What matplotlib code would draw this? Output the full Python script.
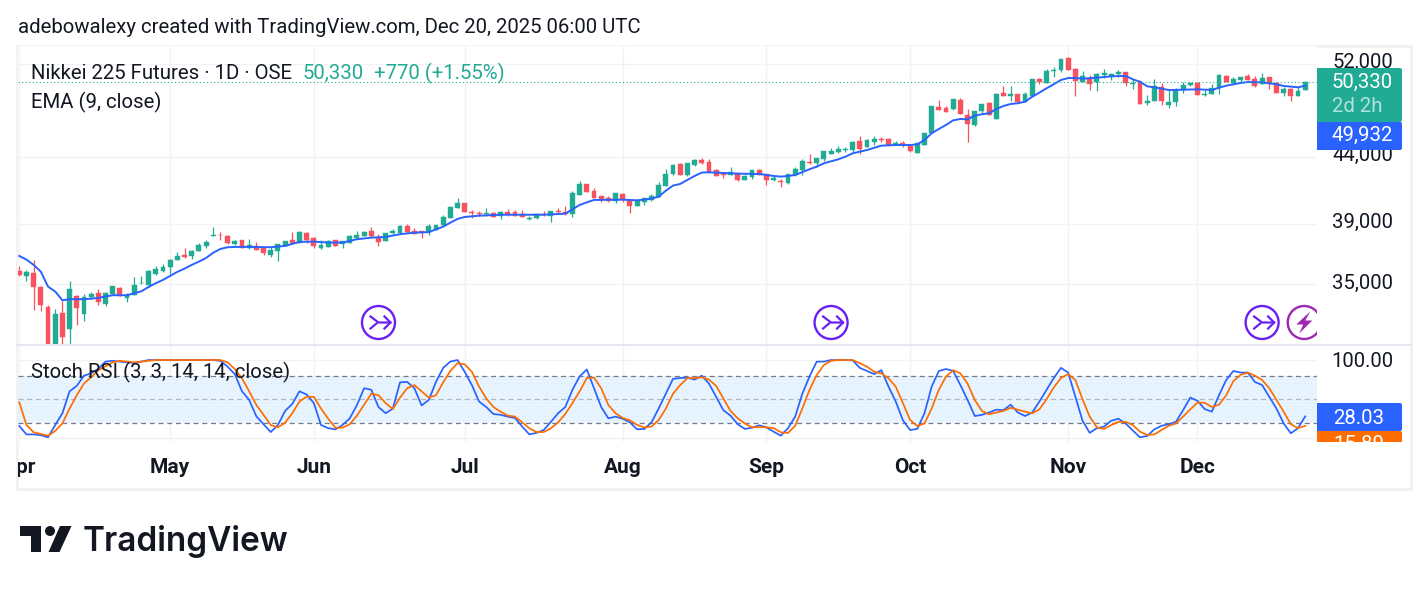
import matplotlib
matplotlib.use('Agg')
from matplotlib import pyplot as plt
from matplotlib.patches import Circle, Polygon, FancyBboxPatch, Rectangle
from matplotlib.transforms import Bbox, ScaledTranslation
import numpy as np

plt.rcParams['font.family'] = ['Roboto', 'DejaVu Sans']
plt.rcParams['hatch.linewidth'] = 0.3

# daily candles, first bar = 1 Apr
opens = [35880,35540,35740,34850,33615,30800,33255,32330,34290,33210,
         34205,34470,33815,34390,34785,34160,34365,35060,34955,35670,
         35860,36140,36575,36900,36820,37170,37510,38200,38275,38185,
         37645,37890,37390,37510,37390,36930,37170,37510,37910,37710,
         38390,38050,37375,37440,37890,37660,37730,38050,38185,38530,
         38120,37845,38390,38390,38880,38505,38505,38460,38605,38950,
         39440,40155,40510,39870,39800,39730,39775,39580,39870,39870,
         39730,39390,39440,39730,39580,39920,39870,39730,41100,41920,
         41400,41025,40880,40660,41175,40735,40300,40590,40735,40955,
         41775,42680,43455,42605,43380,43770,43610,42990,42680,42605,
         42755,42225,42450,42990,42675,42225,42150,42000,42605,42990,
         43610,43535,43845,44240,44400,44560,44560,45285,44800,45205,
         45450,45450,44960,45120,44880,44320,44960,45945,48135,48050,
         47965,48746,47450,46610,47790,48485,47110,49360,49095,49270,
         48570,49095,50615,50260,51350,51440,52565,51535,50345,50710,
         50345,50990,50900,51075,51260,50200,50345,48485,48660,49900,
         48310,48570,49630,50070,50260,49180,49270,49810,50900,50260,
         50530,50900,50620,50170,50805,50260,49360,49720,49095,49630]
highs = [36190,35925,36576,34910,33730,33495,33980,35225,34350,34410,
         34535,34700,34535,34910,34865,34450,35455,35545,35925,36160,
         36315,36640,37085,37350,37240,37690,37910,38810,38485,38250,
         37910,37930,37960,37780,37460,37420,37645,37845,38460,38530,
         38460,38120,37890,37910,37910,37845,38250,38530,38530,38810,
         38320,38390,38670,38950,39020,38740,38550,39020,38950,39650,
         40300,40880,40515,40010,39940,40155,39870,39940,40080,40010,
         40010,39580,39730,39940,39940,40155,40300,41400,42150,41925,
         41625,41030,41030,41250,41250,40810,40735,40880,41175,42075,
         43065,43455,43535,43535,43845,43925,43845,43065,42835,43225,
         42760,42605,42990,43065,42680,42530,42300,42680,43225,43845,
         44240,43925,44480,44720,44885,44800,45285,45695,45450,45695,
         45615,45530,45285,45285,44960,45125,45950,48225,48746,48225,
         48835,48920,47965,47790,48400,48570,49360,49990,49990,49275,
         49450,50620,50710,51535,51720,52470,52660,51630,51350,50990,
         51165,51535,51165,51440,51265,50620,50530,49180,50620,50260,
         49720,49810,50345,50345,50345,49630,50170,51075,50990,50805,
         50810,51075,50900,51165,50810,50345,49900,49810,49900,50440]
lows = [35560,35240,33435,33400,30000,30400,30900,30900,32565,32800,
        34080,33755,33695,34385,34290,33940,34365,35055,34865,35585,
        35815,35670,36570,36685,36660,37165,37375,38195,37910,37645,
        37600,37370,37305,37235,36905,36775,36510,37505,37705,37690,
        37730,37375,37305,37435,37505,37375,37690,38000,38180,38120,
        37510,37840,38320,38345,38390,38315,38050,38250,38600,38945,
        39435,40150,39865,39440,39580,39580,39510,39370,39580,39575,
        39505,39300,39370,39580,39160,39730,39650,39510,41095,41320,
        40875,40590,40590,40515,40590,39800,40295,40370,40660,40950,
        41770,42605,42600,42530,43300,43455,42760,42525,42375,42600,
        42150,42220,42300,42600,41850,42150,41700,41925,42530,42605,
        43455,43225,43690,44235,44320,44400,44400,44240,44795,44960,
        45205,44955,44955,44800,44400,44315,44955,45940,47875,47705,
        47880,47535,45205,46525,47620,47445,47105,49090,48660,48485,
        48565,49090,50170,50255,50805,51260,51435,49090,50340,49630,
        49540,50710,50530,50805,49990,49720,48395,48310,48655,48310,
        48050,48225,49360,49990,49175,49095,49265,49270,50340,50170,
        50260,50525,49900,50165,49720,49355,49095,48660,49090,49625]
closes = [35600,35800,34865,33755,30600,33190,31870,34720,33575,34225,
          34390,33940,34450,34890,34300,34350,34975,35100,35860,35970,
          36120,36555,36840,36790,37175,37575,37775,38250,38235,37710,
          37845,37390,37555,37240,37040,37240,37625,37840,37710,38460,
          37910,37510,37575,37845,37510,37840,38185,38250,38460,38185,
          37780,38385,38530,38880,38460,38320,38370,38880,38945,39510,
          40225,40510,39870,39820,39750,39775,39530,39870,39730,39580,
          39510,39440,39725,39650,39935,39870,39730,41250,41925,41325,
          40880,40735,40660,41245,40735,40300,40660,40875,41025,41850,
          42680,43380,42605,43530,43770,43535,42835,42530,42605,42835,
          42225,42530,42985,42605,42225,42375,42075,42675,43065,43690,
          43535,43920,44475,44480,44640,44640,45205,44640,45370,45450,
          45370,44960,45120,44960,44480,45120,45945,48220,47880,47710,
          48830,47540,46690,47785,48395,47450,49270,49095,49270,48570,
          49270,50615,50345,51350,51440,52465,51440,50440,50900,50170,
          51075,51165,51075,51260,50260,50260,48400,48660,49990,48660,
          48570,49630,50070,50260,49180,49270,49810,50990,50345,50620,
          50805,50530,49990,50710,50170,49360,49720,49095,49540,50330]

# EMA vertices
ema_idx = [0,1,2,3,4,5,6,7,8,9,10,11,12,13,14,15,16,17,18,19,20,21,22,23,24,25,26,27,28,29,30,31,32,35,37,39,41,43,45,47,
           49,51,53,55,57,59,60,61,62,64,67,70,73,76,77,78,79,80,84,86,88,89,90,91,92,93,94,95,96,98,100,103,105,106,107,108,
           110,111,112,114,115,116,118,120,122,124,125,126,127,128,129,130,131,132,133,134,135,136,137,138,139,140,141,142,143,
           144,145,146,147,148,150,152,154,155,156,157,158,160,162,164,166,167,168,170,171,173,175,176,178,179]
ema_val = [36840,36595,36250,35815,34865,34555,34020,34085,34085,34085,34120,34165,34245,34330,34330,34330,34450,34575,34845,35080,
           35286,35540,35800,36010,36250,36465,36705,37055,37305,37420,37440,37440,37440,37420,37510,37780,37800,37735,37735,37960,
           38070,38120,38305,38415,38445,38830,39110,39370,39510,39600,39670,39670,39670,39745,40060,40370,40565,40735,40757,40710,
           40830,40980,41420,41800,41925,42225,42530,42785,42815,42760,42705,42680,42530,42480,42530,42605,
           43045,43250,43510,43820,44030,44295,44560,44910,44960,44960,45015,45368,45920,46275,46610,47000,47110,47085,47395,47515,
           47600,47965,48225,48400,48460,48600,49035,49395,49785,
           50145,50530,50710,50710,50650,50735,50865,50900,50590,50375,49960,49870,49630,49655,49690,49630,49835,50015,50260,50345,
           50320,50145,49990,49870,50015]

stoch_k = [15.7,5,5,4,1.3,17,32,60,67,80,
           83,89,98,99,98,97,96,98,100,100,
           100,100,100,100,100,100,100,100,99,91.5,
           82,60,49,28,18,8,17,35,44,60,
           56,45,17,13,11.5,17,25.5,42.5,64,62,
           40,32,38,71.5,72,64,42,49,72,90,
           98,100,85,68,47,40,31,30,27.7,26,
           15,5,7,10.6,21,32,40,62,79,88,
           64,40,25.5,27.7,25,20.4,11.5,12,20.4,38,
           57,76,77,77.5,75,80,70,53,36,29,
           18,12,13.6,16.6,14,8.5,3.4,12.8,27.7,57,
           79,98,98,100,100,100,99.6,90,86,82,
           87,66,47,23,10.6,12,32,66,86,88.5,
           86,68,49,28.5,30,33,36.6,36,43,33,
           28.5,33,47,62,77,90,84,53,22.5,7,
           13,15,22.5,25,19,10,1.3,3,11.5,16,
           18,21,36,52,48,37.4,34,55,74.5,86,
           84,84,72,68,53,38,19,6.4,13,28.03]
stoch_d = [46,17,7.7,5.5,3.4,9.4,19,38,55,70,
           78,87,92,97,99,98,97,98,99,100,
           100,100,100,100,100,100,100,100,100,97,
           88.5,76.6,60,42.5,30,17,14,20,32,47,
           53,53,38,25,13.6,13.6,18,29,43,57,
           55,45,37.4,52,64,68,60,52,55,71.5,
           86,96,94.5,85,66,51,40,34,29,27.7,
           20.4,12.8,8,8,12.8,20.4,31,45,60,77,
           77.5,64,42.5,32,26,23,17,14,15,23.4,
           38,57,68,77,77,78,75,67,51,35,
           25.5,19,14,14.4,14,13,7.7,6.8,16,38,
           62,81,93.6,99,100,100,100,96,91.5,85,
           83,76.6,66,45,23.4,15.7,19,38,62,79,
           87,83,70,49,35,30.6,33,35,39,36.6,
           34,32,37,50,65,77,82,74.5,50,27.7,
           14,12,17,21,21,17,8.5,4.3,5,10.6,
           16,19,27.7,37,45.5,45.5,40,43,55,73,
           81,84,80,74.5,64,49,34,18,13,15.89]

month_idx = [0, 21, 41, 62, 84, 104, 124, 146, 164]
month_labels = ['Apr', 'May', 'Jun', 'Jul', 'Aug', 'Sep', 'Oct', 'Nov', 'Dec']
price_ticks = [35000, 39000, 44000, 52000]
swap_idx = [50, 113, 173]
split_idx = [179]

GREEN = '#22ab94'
RED = '#f7525f'
BLUE = '#2962ff'
ORANGE = '#ff6d00'
TEXT = '#131722'
GRID = '#f2f2f4'
PURPLE = '#6a1ff5'
W, H = 1428, 591


def rect(x0, y0, x1, y1):
    # pixel box (y from the top) -> figure fractions
    return [x0 / W, 1 - y1 / H, (x1 - x0) / W, (y1 - y0) / H]


fig = plt.figure(figsize=(W / 100, H / 100), dpi=100, facecolor='white')

# frame behind the panes
bg = fig.add_axes([0, 0, 1, 1], zorder=0)
bg.set_xlim(0, W)
bg.set_ylim(H, 0)
bg.axis('off')
bg.add_patch(Rectangle((17, 46), 1394, 443, fc='white', ec='#f0f0f0', lw=1.8))

idx = np.arange(len(closes))
x_lim = (-0.18, 180.64)

# price pane
ax = fig.add_axes(rect(18, 46, 1317, 344), zorder=2)
ax.set_yscale('log')
ax.set_xlim(*x_lim)
ax.set_ylim(31450, 53711)
o, h, l, c = map(np.array, (opens, highs, lows, closes))
col = np.where(c >= o, GREEN, RED)
ax.vlines(idx, l, h, colors=col, lw=0.9, zorder=3)
ax.bar(idx, np.abs(c - o), bottom=np.minimum(o, c), width=0.68, color=col, edgecolor=col, lw=0.3, zorder=4)
ax.plot(ema_idx, ema_val, color=BLUE, lw=1.4, zorder=5)
ax.axhline(closes[-1], color=GREEN, ls=(0, (1, 2.2)), lw=0.8, zorder=5)
ax.set_yticks(price_ticks)
ax.set_yticklabels([f'{t:,}' for t in price_ticks], fontsize=14.6, color=TEXT)
ax.minorticks_off()
ax.yaxis.tick_right()
ax.tick_params(axis='y', length=0, pad=11)
# the price scale prints its numbers a bit above the grid line
up = ScaledTranslation(0, 2.5 / 72, fig.dpi_scale_trans)
for lab in ax.get_yticklabels():
    lab.set_transform(lab.get_transform() + up)
ax.set_xticks(month_idx)
ax.tick_params(axis='x', length=0, labelbottom=False)
ax.grid(True, color=GRID, lw=1)
ax.set_axisbelow(True)
for s in ax.spines.values():
    s.set_visible(False)

# stoch rsi pane
ax2 = fig.add_axes(rect(18, 345, 1317, 442), zorder=2)
ax2.set_xlim(*x_lim)
ax2.set_ylim(-4.7, 119.2)
ax2.axhspan(20, 80, facecolor='#e8f4fe', edgecolor='#d6eafb', hatch='.....', lw=0, zorder=1)
ax2.axhline(80, color='#787b86', ls=(0, (4, 3)), lw=0.9, zorder=2)
ax2.axhline(50, color='#b2b5be', ls=(0, (4, 3)), lw=0.9, zorder=2)
ax2.axhline(20, color='#787b86', ls=(0, (4, 3)), lw=0.9, zorder=2)
ax2.plot(idx, stoch_k, color=BLUE, lw=1.25, zorder=3)
ax2.plot(idx, stoch_d, color=ORANGE, lw=1.25, zorder=4)
ax2.set_yticks([0, 100])
ax2.set_yticklabels(['', '100.00'], fontsize=14.6, color=TEXT)
ax2.yaxis.tick_right()
ax2.tick_params(axis='y', length=0, pad=10)
for lab in ax2.get_yticklabels():
    lab.set_transform(lab.get_transform() + ScaledTranslation(0, 0.7 / 72, fig.dpi_scale_trans))
ax2.set_xticks(month_idx)
ax2.set_xticklabels(month_labels, fontsize=15, fontweight='bold', color=TEXT)
ax2.tick_params(axis='x', length=0, pad=11.3)
ax2.grid(True, color=GRID, lw=1)
ax2.set_axisbelow(True)
for s in ax2.spines.values():
    s.set_visible(False)
# Apr sits on the left edge and gets cut by the pane
ax2.get_xticklabels()[0].set_clip_box(Bbox([[18, 0], [1317, H]]))
ax2.get_xticklabels()[0].set_clip_on(True)

# overlay in pixels for labels, icons, logo
ov = fig.add_axes([0, 0, 1, 1], zorder=5)
ov.set_xlim(0, W)
ov.set_ylim(H, 0)
ov.axis('off')
ov.patch.set_alpha(0)

ov.plot([17, 1411], [344.5, 344.5], color='#e0e3eb', lw=1.2)

ov.text(18, 27.7, 'adebowalexy created with TradingView.com, Dec 20, 2025 06:00 UTC',
        fontsize=14.7, color=TEXT, va='center')
ov.text(31, 73.7, 'Nikkei 225 Futures · 1D · OSE', fontsize=14.7, color=TEXT, va='center')
ov.text(303, 73.7, '50,330', fontsize=14.7, color=GREEN, va='center')
ov.text(374.5, 73.7, '+770 (+1.55%)', fontsize=14.7, color=GREEN, va='center')
ov.text(31, 102, 'EMA (9, close)', fontsize=14.7, color=TEXT, va='center')
ov.text(31, 372, 'Stoch RSI (3, 3, 14, 14, close)', fontsize=14.7, color=TEXT, va='center')


def price_box(y0, y1, color, clip=None):
    p = FancyBboxPatch((1317, y0), 85, y1 - y0, boxstyle='round,pad=0,rounding_size=2',
                       fc=color, ec='none')
    ov.add_patch(p)
    ov.add_patch(Rectangle((1317, y0), 6, y1 - y0, fc=color, ec='none'))
    if clip:
        p.set_clip_box(Bbox([[1317, H - clip], [1410, H]]))
        ov.patches[-1].set_clip_box(Bbox([[1317, H - clip], [1410, H]]))


price_box(68, 122, GREEN)
price_box(122, 150, BLUE)
price_box(403, 431, BLUE)
price_box(431, 460, ORANGE, clip=442)
ov.text(1393, 82, '50,330', fontsize=14.7, color='white', ha='right', va='center')
ov.text(1383, 106, '2d 2h', fontsize=14.7, color='white', alpha=0.65, ha='right', va='center')
ov.text(1393, 135.5, '49,932', fontsize=14.7, color='white', ha='right', va='center')
ov.text(1384, 418, '28.03', fontsize=14.7, color='white', ha='right', va='center')
t15 = ov.text(1384, 445, '15.89', fontsize=14.7, color='white', ha='right', va='center')
t15.set_clip_box(Bbox([[1317, H - 442], [1410, H]]))
t15.set_clip_on(True)


def px_of(i):
    # bar index to pixel x
    return ax.transData.transform((i, 40000))[0]


for i in swap_idx:
    cx, cy = px_of(i), 322.5
    ov.add_patch(Circle((cx, cy), 16.5, fc='white', ec=PURPLE, lw=1.7))
    ov.plot([cx - 8, cx, cx + 12], [cy - 6, cy, cy], color=PURPLE, lw=1.6)
    ov.plot([cx + 6, cx + 12, cx + 6], [cy - 6, cy, cy + 6], color=PURPLE, lw=1.6)
    ov.plot([cx - 8, cx - 2], [cy + 6, cy + 1], color=PURPLE, lw=1.6)

for i in split_idx:
    cx, cy = px_of(i) - 1, 322.5
    ring = Circle((cx, cy), 16.5, fc='white', ec='#9c27b0', lw=1.7)
    ov.add_patch(ring)
    ring.set_clip_box(Bbox([[0, 0], [1317, H]]))
    bolt = Polygon([[cx + 6, cy - 11], [cx - 8, cy + 2], [cx - 1, cy + 2], [cx - 5, cy + 11],
                    [cx + 8, cy - 2], [cx + 1, cy - 2]], fc='#9c27b0', ec='none')
    ov.add_patch(bolt)

# logo
LOGO = '#131722'
ov.add_patch(Polygon([[20, 526], [41, 526], [41, 552], [31, 552], [31, 536], [20, 536]], fc=LOGO, ec='none'))
ov.add_patch(Circle((50, 531), 5, fc=LOGO, ec='none'))
ov.add_patch(Polygon([[60, 526], [71.5, 526], [59.5, 552], [48.5, 552]], fc=LOGO, ec='none'))
ov.text(83, 542, 'TradingView', fontsize=24, fontweight='semibold', family=['Inter', 'DejaVu Sans'],
        color=LOGO, va='center')

fig.savefig('out.png', dpi=100)
